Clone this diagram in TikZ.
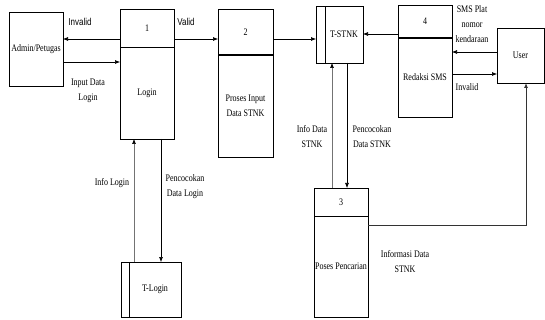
\documentclass[tikz,border=0pt]{standalone}
\usepackage{fontspec}
\setmainfont{Liberation Serif}[FakeStretch=0.8]
\newfontfamily\narrowsans{Liberation Sans}[FakeStretch=0.8]
\usetikzlibrary{positioning, arrows.meta, calc}

\begin{document}
\begin{tikzpicture}[
  x=1pt, y=-1pt,
  every node/.style={font=\fontsize{10}{15}\selectfont, outer sep=0pt},
  ent/.style={draw, line width=0.6pt, minimum width=54pt, minimum height=74pt,
              inner sep=1pt, align=center},
  phead/.style={draw, line width=0.6pt, minimum width=54pt, inner sep=0pt},
  pbody/.style={draw, line width=0.6pt, minimum width=54pt, inner sep=0pt, align=center},
  store/.style={draw, line width=0.6pt, inner sep=0pt, align=center},
  strip/.style={draw, line width=0.6pt, inner sep=0pt},
  arr/.style={-{Latex[length=5pt, width=4pt]}, line width=0.6pt},
  arrg/.style={-{Latex[length=5pt, width=4pt, black]}, line width=0.6pt, draw=black!55},
  lbl/.style={align=center, inner sep=1pt},
]

\useasboundingbox (0,0) rectangle (545,320);

% === Entities ===
\node[ent] (adm) at (36,49) {Admin/Petugas};
\node[ent, minimum width=47pt, minimum height=55pt] (usr) at (520.5,55.5) {User};

% === Processes ===
% 1 Login
\node[phead, minimum height=38pt] (h1) at (147,28) {1};
\node[pbody, minimum height=92pt, below=0pt of h1] (b1) {Login};

% 2 Proses Input
\node[phead, minimum width=55pt, minimum height=46pt] (h2) at (245.5,32) {2};
\node[pbody, minimum width=55pt, minimum height=102pt, below=0pt of h2] (b2) {Proses Input\\Data STNK};
\draw[line width=1.6pt] (h2.south west) -- (h2.south east);

% 3 Pencarian
\node[phead, minimum height=28pt] (h3) at (341,202) {3};
\node[pbody, minimum height=101pt, below=0pt of h3] (b3) {Poses Pencarian};

% 4 Redaksi SMS
\node[phead, minimum height=33pt] (h4) at (425,21.5) {4};
\node[pbody, minimum height=79pt, below=0pt of h4] (b4) {Redaksi SMS};
\draw[line width=1.6pt] (h4.south west) -- (h4.south east);

% === Data stores ===
\node[store, minimum width=38pt, minimum height=57pt] (ts) at (344,34.5) {T-STNK};
\node[strip, minimum width=9pt, minimum height=57pt, left=0pt of ts] (tsl) {};
\node[store, minimum width=52pt, minimum height=55pt] (tl) at (155,289.5) {T-Login};
\node[strip, minimum width=8pt, minimum height=55pt, left=0pt of tl] (tll) {};

% === Flows ===
\coordinate (inv) at ([yshift=-18.5pt]usr.west);
\draw[arr] ([yshift=-11pt]h1.west) -- ([yshift=-11pt]h1.west -| adm.east);
\draw[arr] ([yshift=-13pt]adm.east) -- ([yshift=-13pt]adm.east -| b1.west);
\draw[arr] ([yshift=-11pt]h1.east) -- ([yshift=-11pt]h1.east -| h2.west);
\draw[arr] ([yshift=-7pt]h2.east) -- ([yshift=-7pt]h2.east -| tsl.west);
\draw[arr] ([yshift=-12.5pt]h4.west) -- ([yshift=-12.5pt]h4.west -| ts.east);
\draw[arr] ([yshift=3.5pt]usr.west) -- ([yshift=3.5pt]usr.west -| b4.east);
\draw[arr] (inv -| b4.east) -- (inv);
\draw[arrg] ([xshift=-9pt]h3.north) -- ([xshift=-9pt]h3.north |- ts.south);
\draw[arr] ([xshift=6pt]h3.north |- ts.south) -- ([xshift=6pt]h3.north);
\draw[arr, line width=0.9pt, draw=black!80] ([yshift=41.5pt]b3.east) -| ([xshift=5.5pt]usr.south);
\draw[arrg] ([xshift=-21pt]tl.north) -- ([xshift=-21pt]tl.north |- b1.south);
\draw[arr] ([xshift=6pt]tl.north |- b1.south) -- ([xshift=6pt]tl.north);

% === Labels ===
\node[lbl, font=\narrowsans\fontsize{10}{15}\selectfont] (linv1) at (80,22) {Invalid};
\node[lbl] (linp) at (88,91) {Input Data\\Login};
\node[lbl, font=\narrowsans\fontsize{10}{15}\selectfont] (lval) at (186,22) {Valid};
\node[lbl] (lsms) at (472,24) {SMS Plat\\nomor\\kendaraan};
\node[lbl] (linv2) at (467,87) {Invalid};
\node[lbl] (linfs) at (312,137) {Info Data\\STNK};
\node[lbl] (lpcs) at (372,137) {Pencocokan\\Data STNK};
\node[lbl] (linfl) at (112,183) {Info Login};
\node[lbl] (lpcl) at (185,187) {Pencocokan\\Data Login};
\node[lbl] (linfo) at (405,262) {Informasi Data\\STNK};

\end{tikzpicture}
\end{document}
